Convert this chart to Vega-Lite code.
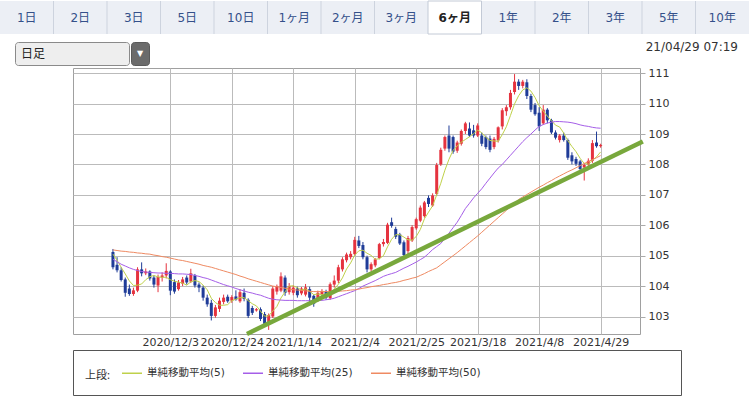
{
"$schema":"https://vega.github.io/schema/vega-lite/v6.json",
"padding":0,
"background":"white",
"spacing":0,
"config":{"view":{"stroke":null},"font":"DejaVu Sans","axis":{"labelOverlap":false,"labelSeparation":0}},
"resolve":{"scale":{"color":"independent"},"legend":{"color":"independent"}},
"datasets":{
"candles":[
{"d":"2020-11-13","i":-14,"o":105.12,"h":105.22,"l":104.55,"c":104.62,"m5":105.05,"m25":104.88,"m50":105.19},
{"d":"2020-11-16","i":-13,"o":104.70,"h":104.95,"l":104.45,"c":104.52,"m5":104.85,"m25":104.80,"m50":105.17},
{"d":"2020-11-17","i":-12,"o":104.52,"h":104.62,"l":104.15,"c":104.20,"m5":104.62,"m25":104.72,"m50":105.15},
{"d":"2020-11-18","i":-11,"o":104.22,"h":104.28,"l":103.65,"c":103.78,"m5":104.40,"m25":104.66,"m50":105.14},
{"d":"2020-11-19","i":-10,"o":103.92,"h":104.05,"l":103.68,"c":103.74,"m5":104.17,"m25":104.60,"m50":105.12},
{"d":"2020-11-20","i":-9,"o":103.74,"h":103.95,"l":103.68,"c":103.86,"m5":104.02,"m25":104.55,"m50":105.11},
{"d":"2020-11-23","i":-8,"o":103.85,"h":104.62,"l":103.80,"c":104.55,"m5":104.03,"m25":104.51,"m50":105.09},
{"d":"2020-11-24","i":-7,"o":104.55,"h":104.78,"l":104.32,"c":104.42,"m5":104.07,"m25":104.48,"m50":105.08},
{"d":"2020-11-25","i":-6,"o":104.42,"h":104.58,"l":104.36,"c":104.48,"m5":104.21,"m25":104.46,"m50":105.06},
{"d":"2020-11-26","i":-5,"o":104.48,"h":104.52,"l":104.18,"c":104.25,"m5":104.31,"m25":104.45,"m50":105.05},
{"d":"2020-11-27","i":-4,"o":104.28,"h":104.35,"l":103.95,"c":104.05,"m5":104.35,"m25":104.44,"m50":105.02},
{"d":"2020-11-30","i":-3,"o":104.02,"h":104.38,"l":103.80,"c":104.30,"m5":104.30,"m25":104.43,"m50":105.00},
{"d":"2020-12-01","i":-2,"o":104.28,"h":104.45,"l":104.15,"c":104.35,"m5":104.29,"m25":104.43,"m50":104.97},
{"d":"2020-12-02","i":-1,"o":104.35,"h":104.75,"l":104.25,"c":104.50,"m5":104.29,"m25":104.42,"m50":104.95},
{"d":"2020-12-03","i":0,"o":104.48,"h":104.52,"l":103.70,"c":103.85,"m5":104.21,"m25":104.42,"m50":104.92},
{"d":"2020-12-04","i":1,"o":104.13,"h":104.22,"l":103.75,"c":103.82,"m5":104.16,"m25":104.41,"m50":104.89},
{"d":"2020-12-07","i":2,"o":103.90,"h":104.20,"l":103.85,"c":104.12,"m5":104.13,"m25":104.40,"m50":104.86},
{"d":"2020-12-08","i":3,"o":104.08,"h":104.30,"l":104.00,"c":104.22,"m5":104.10,"m25":104.40,"m50":104.84},
{"d":"2020-12-09","i":4,"o":104.28,"h":104.35,"l":104.05,"c":104.12,"m5":104.03,"m25":104.39,"m50":104.81},
{"d":"2020-12-10","i":5,"o":104.15,"h":104.57,"l":104.10,"c":104.42,"m5":104.14,"m25":104.38,"m50":104.78},
{"d":"2020-12-11","i":6,"o":104.35,"h":104.40,"l":103.95,"c":104.02,"m5":104.18,"m25":104.35,"m50":104.75},
{"d":"2020-12-14","i":7,"o":104.05,"h":104.12,"l":103.80,"c":103.95,"m5":104.15,"m25":104.32,"m50":104.72},
{"d":"2020-12-15","i":8,"o":103.95,"h":104.02,"l":103.52,"c":103.62,"m5":104.03,"m25":104.28,"m50":104.68},
{"d":"2020-12-16","i":9,"o":103.62,"h":103.72,"l":103.32,"c":103.40,"m5":103.88,"m25":104.25,"m50":104.65},
{"d":"2020-12-17","i":10,"o":103.45,"h":103.55,"l":102.87,"c":103.02,"m5":103.60,"m25":104.20,"m50":104.62},
{"d":"2020-12-18","i":11,"o":103.02,"h":103.38,"l":102.96,"c":103.30,"m5":103.46,"m25":104.15,"m50":104.58},
{"d":"2020-12-21","i":12,"o":103.25,"h":103.62,"l":103.15,"c":103.52,"m5":103.37,"m25":104.10,"m50":104.54},
{"d":"2020-12-22","i":13,"o":103.48,"h":103.72,"l":103.40,"c":103.62,"m5":103.37,"m25":104.05,"m50":104.50},
{"d":"2020-12-23","i":14,"o":103.65,"h":103.72,"l":103.45,"c":103.50,"m5":103.39,"m25":104.01,"m50":104.46},
{"d":"2020-12-24","i":15,"o":103.52,"h":103.70,"l":103.45,"c":103.64,"m5":103.52,"m25":103.97,"m50":104.42},
{"d":"2020-12-25","i":16,"o":103.66,"h":103.86,"l":103.52,"c":103.56,"m5":103.57,"m25":103.92,"m50":104.38},
{"d":"2020-12-28","i":17,"o":103.50,"h":103.90,"l":103.45,"c":103.80,"m5":103.62,"m25":103.88,"m50":104.33},
{"d":"2020-12-29","i":18,"o":103.78,"h":103.92,"l":103.50,"c":103.58,"m5":103.62,"m25":103.84,"m50":104.29},
{"d":"2020-12-30","i":19,"o":103.55,"h":103.60,"l":102.95,"c":103.02,"m5":103.52,"m25":103.80,"m50":104.24},
{"d":"2020-12-31","i":20,"o":103.28,"h":103.35,"l":103.05,"c":103.12,"m5":103.42,"m25":103.77,"m50":104.20},
{"d":"2021-01-01","i":21,"o":103.20,"h":103.28,"l":103.16,"c":103.24,"m5":103.35,"m25":103.73,"m50":104.16},
{"d":"2021-01-04","i":22,"o":103.24,"h":103.30,"l":102.85,"c":102.92,"m5":103.18,"m25":103.70,"m50":104.12},
{"d":"2021-01-05","i":23,"o":103.08,"h":103.15,"l":102.70,"c":102.76,"m5":103.01,"m25":103.65,"m50":104.08},
{"d":"2021-01-06","i":24,"o":102.76,"h":103.10,"l":102.56,"c":103.05,"m5":103.02,"m25":103.60,"m50":104.04},
{"d":"2021-01-07","i":25,"o":103.00,"h":104.00,"l":102.95,"c":103.92,"m5":103.18,"m25":103.57,"m50":104.00},
{"d":"2021-01-08","i":26,"o":103.82,"h":104.05,"l":103.72,"c":104.00,"m5":103.33,"m25":103.55,"m50":103.98},
{"d":"2021-01-11","i":27,"o":103.85,"h":104.45,"l":103.80,"c":104.32,"m5":103.61,"m25":103.54,"m50":103.95},
{"d":"2021-01-12","i":28,"o":104.28,"h":104.35,"l":103.68,"c":103.78,"m5":103.81,"m25":103.53,"m50":103.93},
{"d":"2021-01-13","i":29,"o":103.80,"h":104.10,"l":103.72,"c":104.00,"m5":104.00,"m25":103.53,"m50":103.90},
{"d":"2021-01-14","i":30,"o":103.78,"h":104.02,"l":103.70,"c":103.95,"m5":104.01,"m25":103.53,"m50":103.88},
{"d":"2021-01-15","i":31,"o":103.92,"h":103.98,"l":103.62,"c":103.70,"m5":103.95,"m25":103.52,"m50":103.87},
{"d":"2021-01-18","i":32,"o":103.76,"h":103.97,"l":103.70,"c":103.92,"m5":103.87,"m25":103.52,"m50":103.86},
{"d":"2021-01-19","i":33,"o":103.72,"h":104.07,"l":103.66,"c":103.96,"m5":103.91,"m25":103.52,"m50":103.84},
{"d":"2021-01-20","i":34,"o":103.90,"h":103.98,"l":103.40,"c":103.62,"m5":103.83,"m25":103.52,"m50":103.83},
{"d":"2021-01-21","i":35,"o":103.68,"h":103.72,"l":103.32,"c":103.42,"m5":103.72,"m25":103.52,"m50":103.82},
{"d":"2021-01-22","i":36,"o":103.55,"h":103.85,"l":103.48,"c":103.78,"m5":103.74,"m25":103.53,"m50":103.82},
{"d":"2021-01-25","i":37,"o":103.72,"h":103.90,"l":103.66,"c":103.84,"m5":103.72,"m25":103.53,"m50":103.82},
{"d":"2021-01-26","i":38,"o":103.82,"h":103.88,"l":103.55,"c":103.62,"m5":103.66,"m25":103.55,"m50":103.82},
{"d":"2021-01-27","i":39,"o":103.60,"h":104.12,"l":103.55,"c":104.06,"m5":103.74,"m25":103.57,"m50":103.82},
{"d":"2021-01-28","i":40,"o":104.05,"h":104.35,"l":103.95,"c":104.18,"m5":103.90,"m25":103.60,"m50":103.82},
{"d":"2021-01-29","i":41,"o":104.18,"h":104.70,"l":104.10,"c":104.62,"m5":104.06,"m25":103.65,"m50":103.83},
{"d":"2021-02-01","i":42,"o":104.55,"h":104.95,"l":104.48,"c":104.88,"m5":104.27,"m25":103.70,"m50":103.84},
{"d":"2021-02-02","i":43,"o":104.85,"h":105.10,"l":104.78,"c":105.04,"m5":104.56,"m25":103.75,"m50":103.85},
{"d":"2021-02-03","i":44,"o":104.95,"h":105.15,"l":104.88,"c":105.06,"m5":104.76,"m25":103.80,"m50":103.87},
{"d":"2021-02-04","i":45,"o":105.05,"h":105.62,"l":105.00,"c":105.52,"m5":105.02,"m25":103.85,"m50":103.88},
{"d":"2021-02-05","i":46,"o":105.50,"h":105.65,"l":105.25,"c":105.32,"m5":105.16,"m25":103.92,"m50":103.90},
{"d":"2021-02-08","i":47,"o":105.35,"h":105.45,"l":104.88,"c":104.95,"m5":105.18,"m25":104.00,"m50":103.93},
{"d":"2021-02-09","i":48,"o":104.95,"h":105.00,"l":104.45,"c":104.55,"m5":105.08,"m25":104.06,"m50":103.95},
{"d":"2021-02-10","i":49,"o":104.55,"h":104.78,"l":104.48,"c":104.72,"m5":105.01,"m25":104.12,"m50":103.98},
{"d":"2021-02-11","i":50,"o":104.68,"h":104.92,"l":104.62,"c":104.88,"m5":104.88,"m25":104.18,"m50":104.00},
{"d":"2021-02-12","i":51,"o":104.92,"h":105.42,"l":104.88,"c":105.38,"m5":104.90,"m25":104.25,"m50":104.02},
{"d":"2021-02-15","i":52,"o":105.38,"h":105.55,"l":105.30,"c":105.45,"m5":105.00,"m25":104.32,"m50":104.05},
{"d":"2021-02-16","i":53,"o":105.42,"h":106.08,"l":105.38,"c":106.02,"m5":105.29,"m25":104.37,"m50":104.07},
{"d":"2021-02-17","i":54,"o":106.10,"h":106.25,"l":105.92,"c":105.98,"m5":105.54,"m25":104.41,"m50":104.10},
{"d":"2021-02-18","i":55,"o":105.88,"h":105.95,"l":105.55,"c":105.62,"m5":105.69,"m25":104.45,"m50":104.12},
{"d":"2021-02-19","i":56,"o":105.70,"h":105.75,"l":105.35,"c":105.40,"m5":105.69,"m25":104.52,"m50":104.15},
{"d":"2021-02-22","i":57,"o":105.44,"h":105.50,"l":104.95,"c":105.02,"m5":105.61,"m25":104.59,"m50":104.19},
{"d":"2021-02-23","i":58,"o":105.15,"h":105.65,"l":105.05,"c":105.58,"m5":105.52,"m25":104.65,"m50":104.22},
{"d":"2021-02-24","i":59,"o":105.50,"h":106.00,"l":105.45,"c":105.94,"m5":105.51,"m25":104.72,"m50":104.26},
{"d":"2021-02-25","i":60,"o":105.90,"h":106.25,"l":105.85,"c":106.20,"m5":105.63,"m25":104.79,"m50":104.29},
{"d":"2021-02-26","i":61,"o":106.15,"h":106.65,"l":106.10,"c":106.58,"m5":105.86,"m25":104.87,"m50":104.35},
{"d":"2021-03-01","i":62,"o":106.30,"h":106.80,"l":106.25,"c":106.75,"m5":106.21,"m25":104.95,"m50":104.41},
{"d":"2021-03-02","i":63,"o":106.90,"h":106.98,"l":106.60,"c":106.70,"m5":106.43,"m25":105.07,"m50":104.48},
{"d":"2021-03-03","i":64,"o":106.65,"h":107.05,"l":106.60,"c":106.98,"m5":106.64,"m25":105.20,"m50":104.54},
{"d":"2021-03-04","i":65,"o":107.03,"h":108.05,"l":106.98,"c":107.98,"m5":107.00,"m25":105.30,"m50":104.60},
{"d":"2021-03-05","i":66,"o":108.00,"h":108.55,"l":107.95,"c":108.48,"m5":107.38,"m25":105.40,"m50":104.70},
{"d":"2021-03-08","i":67,"o":108.52,"h":108.95,"l":108.45,"c":108.90,"m5":107.81,"m25":105.57,"m50":104.80},
{"d":"2021-03-09","i":68,"o":108.95,"h":109.28,"l":108.40,"c":108.52,"m5":108.17,"m25":105.74,"m50":104.90},
{"d":"2021-03-10","i":69,"o":108.90,"h":108.95,"l":108.35,"c":108.42,"m5":108.46,"m25":105.92,"m50":105.00},
{"d":"2021-03-11","i":70,"o":108.45,"h":108.78,"l":108.38,"c":108.72,"m5":108.61,"m25":106.10,"m50":105.10},
{"d":"2021-03-12","i":71,"o":108.68,"h":109.15,"l":108.62,"c":109.10,"m5":108.73,"m25":106.32,"m50":105.21},
{"d":"2021-03-15","i":72,"o":109.10,"h":109.40,"l":109.00,"c":109.35,"m5":108.82,"m25":106.55,"m50":105.32},
{"d":"2021-03-16","i":73,"o":109.18,"h":109.38,"l":108.90,"c":108.95,"m5":108.91,"m25":106.72,"m50":105.43},
{"d":"2021-03-17","i":74,"o":109.12,"h":109.30,"l":108.88,"c":108.95,"m5":109.01,"m25":106.90,"m50":105.54},
{"d":"2021-03-18","i":75,"o":108.95,"h":109.35,"l":108.90,"c":109.28,"m5":109.13,"m25":107.05,"m50":105.65},
{"d":"2021-03-19","i":76,"o":108.95,"h":109.05,"l":108.60,"c":108.68,"m5":109.04,"m25":107.20,"m50":105.77},
{"d":"2021-03-22","i":77,"o":108.90,"h":108.95,"l":108.50,"c":108.57,"m5":108.89,"m25":107.38,"m50":105.89},
{"d":"2021-03-23","i":78,"o":108.85,"h":108.95,"l":108.40,"c":108.48,"m5":108.79,"m25":107.55,"m50":106.01},
{"d":"2021-03-24","i":79,"o":108.57,"h":108.90,"l":108.50,"c":108.84,"m5":108.77,"m25":107.72,"m50":106.13},
{"d":"2021-03-25","i":80,"o":108.79,"h":109.25,"l":108.72,"c":109.22,"m5":108.76,"m25":107.88,"m50":106.25},
{"d":"2021-03-26","i":81,"o":109.25,"h":109.85,"l":109.15,"c":109.78,"m5":108.98,"m25":108.00,"m50":106.37},
{"d":"2021-03-29","i":82,"o":109.75,"h":109.95,"l":109.60,"c":109.88,"m5":109.24,"m25":108.15,"m50":106.49},
{"d":"2021-03-30","i":83,"o":109.88,"h":110.45,"l":109.80,"c":110.35,"m5":109.61,"m25":108.30,"m50":106.61},
{"d":"2021-03-31","i":84,"o":110.38,"h":110.97,"l":110.30,"c":110.72,"m5":109.99,"m25":108.45,"m50":106.73},
{"d":"2021-04-01","i":85,"o":110.72,"h":110.80,"l":110.45,"c":110.58,"m5":110.26,"m25":108.60,"m50":106.85},
{"d":"2021-04-02","i":86,"o":110.58,"h":110.78,"l":110.50,"c":110.72,"m5":110.45,"m25":108.75,"m50":106.93},
{"d":"2021-04-05","i":87,"o":110.70,"h":110.80,"l":110.15,"c":110.25,"m5":110.52,"m25":108.88,"m50":107.01},
{"d":"2021-04-06","i":88,"o":110.25,"h":110.32,"l":109.72,"c":109.80,"m5":110.41,"m25":109.00,"m50":107.09},
{"d":"2021-04-07","i":89,"o":109.95,"h":110.02,"l":109.60,"c":109.65,"m5":110.20,"m25":109.13,"m50":107.17},
{"d":"2021-04-08","i":90,"o":109.70,"h":109.88,"l":109.10,"c":109.25,"m5":109.93,"m25":109.25,"m50":107.25},
{"d":"2021-04-09","i":91,"o":109.35,"h":109.95,"l":109.30,"c":109.80,"m5":109.75,"m25":109.31,"m50":107.32},
{"d":"2021-04-12","i":92,"o":109.80,"h":109.85,"l":109.35,"c":109.45,"m5":109.59,"m25":109.36,"m50":107.40},
{"d":"2021-04-13","i":93,"o":109.45,"h":109.50,"l":109.00,"c":109.05,"m5":109.44,"m25":109.39,"m50":107.47},
{"d":"2021-04-14","i":94,"o":109.05,"h":109.12,"l":108.82,"c":108.88,"m5":109.29,"m25":109.41,"m50":107.55},
{"d":"2021-04-15","i":95,"o":108.80,"h":109.00,"l":108.72,"c":108.95,"m5":109.23,"m25":109.41,"m50":107.62},
{"d":"2021-04-16","i":96,"o":108.95,"h":109.05,"l":108.75,"c":108.80,"m5":109.03,"m25":109.40,"m50":107.69},
{"d":"2021-04-19","i":97,"o":108.80,"h":108.85,"l":108.15,"c":108.22,"m5":108.78,"m25":109.39,"m50":107.76},
{"d":"2021-04-20","i":98,"o":108.30,"h":108.40,"l":108.00,"c":108.10,"m5":108.59,"m25":109.37,"m50":107.82},
{"d":"2021-04-21","i":99,"o":108.18,"h":108.25,"l":107.95,"c":108.02,"m5":108.42,"m25":109.34,"m50":107.89},
{"d":"2021-04-22","i":100,"o":108.10,"h":108.15,"l":107.70,"c":107.85,"m5":108.20,"m25":109.30,"m50":107.96},
{"d":"2021-04-23","i":101,"o":107.90,"h":108.05,"l":107.47,"c":107.98,"m5":108.03,"m25":109.27,"m50":108.03},
{"d":"2021-04-26","i":102,"o":108.00,"h":108.20,"l":107.90,"c":108.12,"m5":108.01,"m25":109.25,"m50":108.09},
{"d":"2021-04-27","i":103,"o":108.12,"h":108.80,"l":108.05,"c":108.70,"m5":108.13,"m25":109.22,"m50":108.16},
{"d":"2021-04-28","i":104,"o":108.72,"h":109.08,"l":108.55,"c":108.60,"m5":108.25,"m25":109.20,"m50":108.22},
{"d":"2021-04-29","i":105,"o":108.60,"h":108.68,"l":108.55,"c":108.64,"m5":108.41,"m25":109.19,"m50":108.29}
],
"tabs":[{"tab":"1日"},{"tab":"2日"},{"tab":"3日"},{"tab":"5日"},{"tab":"10日"},{"tab":"1ヶ月"},{"tab":"2ヶ月"},{"tab":"3ヶ月"},{"tab":"6ヶ月","sel":true},{"tab":"1年"},{"tab":"2年"},{"tab":"3年"},{"tab":"5年"},{"tab":"10年"}],
"trend":[{"i":18.7,"p":102.425},{"i":115.3,"p":108.754}]
},
"vconcat":[
{
"width":749,"height":33,
"view":{"fill":"#eceff5","stroke":null},
"data":{"name":"tabs"},
"encoding":{"x":{"field":"tab","type":"nominal","axis":null,"scale":{"type":"band","domain":["1日","2日","3日","5日","10日","1ヶ月","2ヶ月","3ヶ月","6ヶ月","1年","2年","3年","5年","10年"],"paddingInner":0,"paddingOuter":0}}},
"layer":[
{"transform":[{"filter":"datum.sel"}],"mark":{"type":"rect","fill":"#ffffff","stroke":"#c3cad6","strokeWidth":1}},
{"transform":[{"filter":"!datum.sel && datum.tab != '1日' && datum.tab != '1年'"}],"mark":{"type":"rule","color":"#cdd3de","strokeWidth":1},"encoding":{"x":{"field":"tab","type":"nominal","bandPosition":0}}},
{"transform":[{"filter":"!datum.sel"}],"mark":{"type":"text","font":"DejaVu Sans, Noto Sans CJK JP","fontSize":12,"color":"#34508a"},"encoding":{"text":{"field":"tab","type":"nominal"}}},
{"transform":[{"filter":"datum.sel"}],"mark":{"type":"text","font":"DejaVu Sans, Noto Sans CJK JP","fontSize":12,"fontWeight":"bold","color":"#222222"},"encoding":{"text":{"field":"tab","type":"nominal"}}}
]
},
{"width":10,"height":6,"data":{"values":[]},"mark":"point"},
{
"hconcat":[
{"width":14,"height":23,"data":{"values":[]},"mark":"point"},
{"width":114,"height":23,"view":{"fill":"#eeeeee","stroke":"#8a8a8a","cornerRadius":3},
 "data":{"values":[{"t":"日足"}]},
 "mark":{"type":"text","align":"left","dx":6,"font":"Noto Sans CJK JP","fontSize":12,"color":"#222222"},
 "encoding":{"text":{"field":"t","type":"nominal"},"x":{"field":"t","type":"nominal","axis":null,"bandPosition":0,"scale":{"type":"band","paddingInner":0,"paddingOuter":0}}}},
{"width":18,"height":23,"view":{"fill":"#6b6b6b","stroke":"#5a5a5a","cornerRadius":3},
 "data":{"values":[{"t":"▼"}]},
 "mark":{"type":"text","fontSize":8,"color":"#ffffff"},
 "encoding":{"text":{"field":"t","type":"nominal"}}},
{"width":588,"height":23,
 "data":{"values":[{"t":"21/04/29 07:19"}]},
 "mark":{"type":"text","align":"right","baseline":"top","font":"DejaVu Sans","fontSize":12,"color":"#333333"},
 "encoding":{"text":{"field":"t","type":"nominal"},
  "x":{"field":"t","type":"nominal","axis":null,"bandPosition":1,"scale":{"type":"band","paddingInner":0,"paddingOuter":0}},
  "y":{"field":"t","type":"nominal","axis":null,"bandPosition":0,"scale":{"type":"band","paddingInner":0,"paddingOuter":0}}}}
],
"spacing":0
},
{
"hconcat":[
{"width":72,"height":10,"data":{"values":[]},"mark":"point"},
{
"vconcat":[
{
"width":567,"height":266,
"view":{"stroke":"#a0a0a0","strokeWidth":1},
"data":{"name":"candles"},
"resolve":{"axis":{"y":"independent"}},
"encoding":{"x":{"field":"i","type":"quantitative","title":null,
 "scale":{"domain":[-22.53,113.39],"nice":false,"zero":false},
 "axis":{"values":[0,15,30,45,60,75,90,105],"labelExpr":"['2020/12/3','2020/12/24','2021/1/14','2021/2/4','2021/2/25','2021/3/18','2021/4/8','2021/4/29'][round(datum.value/15)]","grid":true,"gridColor":"#bbbbbb","ticks":false,"tickSize":0,"domain":false,"labelPadding":2,"labelFont":"DejaVu Sans","labelFontSize":11,"labelColor":"#333333","labelFlush":false,"labelOverlap":false}}},
"layer":[
{"mark":{"type":"rule","strokeWidth":1},
 "encoding":{
  "y":{"field":"l","type":"quantitative","title":null,"scale":{"domain":[102.425,111.17],"nice":false,"zero":false},
   "axis":{"orient":"right","values":[103,104,105,106,107,108,109,110,111],"format":"d","grid":true,"gridColor":"#bbbbbb","tickColor":"#aaaaaa","tickSize":5,"domain":false,"labelPadding":3,"labelFont":"DejaVu Sans","labelFontSize":11,"labelColor":"#333333","labelOverlap":false,"labelSeparation":0,"labelBound":false}},
  "y2":{"field":"h"},
  "color":{"condition":{"test":"datum.c >= datum.o","value":"#e5333f"},"value":"#1f3c98"}}},
{"mark":{"type":"bar","size":3},
 "encoding":{
  "y":{"field":"o","type":"quantitative","title":null,"axis":null},
  "y2":{"field":"c"},
  "color":{"condition":{"test":"datum.c >= datum.o","value":"#e5333f"},"value":"#1f3c98"}}},
{"transform":[{"fold":["m5","m25","m50"],"as":["s","v"]}],
 "mark":{"type":"line","strokeWidth":1},
 "encoding":{
  "y":{"field":"v","type":"quantitative","title":null,"axis":null},
  "color":{"field":"s","type":"nominal","scale":{"domain":["m5","m25","m50"],"range":["#bfd14a","#a55ee8","#ef8a62"]},"legend":null},
  "detail":{"field":"s"}}},
{"data":{"name":"trend"},
 "mark":{"type":"line","clip":false,"strokeWidth":4.5,"color":"#78a83c","strokeCap":"butt"},
 "encoding":{"y":{"field":"p","type":"quantitative","title":null,"axis":null}}}
]
},
{
"width":608,"height":45,
"view":{"stroke":"#555555","strokeWidth":1},
"data":{"values":[]},
"mark":"point",
"encoding":{"color":{"field":"s","type":"nominal",
 "scale":{"domain":["単純移動平均(5)","単純移動平均(25)","単純移動平均(50)"],"range":["#bfd14a","#a55ee8","#ef8a62"]},
 "legend":{"orient":"top-left","offset":12,"direction":"horizontal","title":"上段:","titleOrient":"left","titleAnchor":"middle","titleBaseline":"top","titleFontWeight":"normal","titleFont":"Noto Sans CJK JP","titleFontSize":11,"titleColor":"#333333","titlePadding":10,
  "symbolType":"stroke","symbolSize":400,"symbolStrokeWidth":1.5,"symbolOpacity":1,
  "labelFont":"DejaVu Sans, Noto Sans CJK JP","labelFontSize":10.5,"labelColor":"#333333","labelOffset":4,"columnPadding":15,"padding":0}}}
}
],
"spacing":1,
"resolve":{"scale":{"color":"independent"},"legend":{"color":"independent"}}
}
],
"spacing":0,
"resolve":{"scale":{"color":"independent"},"legend":{"color":"independent"}}
}
]
}
